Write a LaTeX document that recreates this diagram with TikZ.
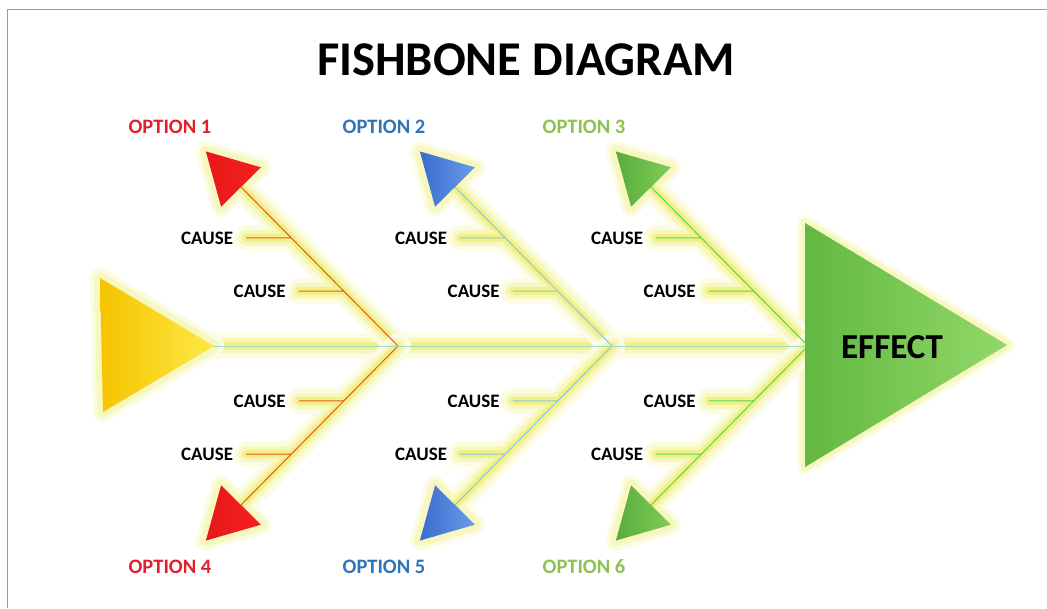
\documentclass[tikz,border=0pt]{standalone}
\usepackage{fontspec}
\setmainfont{Carlito}
\usetikzlibrary{positioning,calc}
\pgfdeclarelayer{glow}
\pgfsetlayers{glow,main}

\definecolor{optred}{HTML}{E0202B}
\definecolor{optblue}{HTML}{2F74B5}
\definecolor{optgreen}{HTML}{8CC152}
\definecolor{bonered}{HTML}{E8562A}
\definecolor{boneblue}{HTML}{8CC6DE}
\definecolor{bonegreen}{HTML}{55D655}
\definecolor{spinec}{HTML}{A6D8C8}
\definecolor{glowc}{HTML}{EDED6A}
\definecolor{framec}{HTML}{9A9A9A}
\definecolor{redA}{HTML}{E81818}
\definecolor{redB}{HTML}{F52020}
\definecolor{blueA}{HTML}{3A6CCF}
\definecolor{blueB}{HTML}{6A9BE8}
\definecolor{greenA}{HTML}{58AC3C}
\definecolor{greenB}{HTML}{80CC58}
\definecolor{effA}{HTML}{62B842}
\definecolor{effB}{HTML}{92D868}

\tikzset{
  glowwide/.style={draw=glowc!18, line width=26pt, line cap=round, line join=round},
  glowmid/.style={draw=glowc!42, line width=16pt, line cap=round, line join=round},
  glownarrow/.style={draw=glowc!80, line width=8pt, line cap=round, line join=round},
  causelbl/.style={font=\bfseries\fontsize{19}{19}\selectfont, inner xsep=13pt, inner ysep=1pt},
  optlbl/.style={font=\bfseries\fontsize{20.5}{20.5}\selectfont},
  bone/.style={line width=1pt}
}

\begin{document}
\begin{tikzpicture}[x=1pt,y=-1pt]
    \useasboundingbox (0,0) rectangle (1047,608);
    \draw[framec, line width=1pt] (1047,9.5) -- (7.5,9.5) -- (7.5,608);

    \node[font=\bfseries\fontsize{48.5}{48.5}\selectfont] (title) at (526,60) {FISHBONE DIAGRAM};

    % spine
    \coordinate (ya) at (100,278);
    \coordinate (yb) at (103,412);
    \coordinate (tail) at (214,346);
    \coordinate (jr) at (398,346);
    \coordinate (jb) at (612,346);
    \coordinate (jg) at (808,346);
    \coordinate (ea) at (805,223);
    \coordinate (ec) at (805,467);
    \coordinate (etip) at (1007,345);

    % bone ends
    \coordinate (r1) at (241,187);
    \coordinate (r4) at (241,505);
    \coordinate (b2) at (455,187);
    \coordinate (b5) at (455,505);
    \coordinate (g3) at (651,187);
    \coordinate (g6) at (651,505);

    \begin{pgfonlayer}{glow}
        \draw[glowwide] (tail) -- (jg);
        \draw[glowmid] (tail) -- (jg);
        \draw[glownarrow] (tail) -- (jg);
        \draw[glowwide, line width=20pt] (ya) -- (yb) -- (tail) -- cycle;
        \draw[glowmid, line width=12pt] (ya) -- (yb) -- (tail) -- cycle;
        \draw[glowwide, line width=16pt] (ea) -- (etip) -- (ec) -- cycle;
        \draw[glowmid, line width=9pt] (ea) -- (etip) -- (ec) -- cycle;
    \end{pgfonlayer}

    \foreach \j/\e/\col/\ca/\cb in {jr/r1/bonered/redA/redB, jr/r4/bonered/redA/redB,
        jb/b2/boneblue/blueA/blueB, jb/b5/boneblue/blueA/blueB,
        jg/g3/bonegreen/greenA/greenB, jg/g6/bonegreen/greenA/greenB}{
        \coordinate (\e n) at ($(\j)!0.345!(\e)$);
        \coordinate (\e f) at ($(\j)!0.68!(\e)$);
        \node[causelbl, left=45pt of \e n] (\e nl) {CAUSE};
        \node[causelbl, left=45pt of \e f] (\e fl) {CAUSE};
        % arrow triangle at the bone end
        \coordinate (\e t) at ($(\e)!-50pt!(\j)$);
        \coordinate (\e a) at ($(\e)!28pt!90:(\j)$);
        \coordinate (\e b) at ($(\e)!28pt!-90:(\j)$);
        \begin{pgfonlayer}{glow}
            \draw[glowwide] (\j) -- (\e) (\e nl.east) -- (\e n) (\e fl.east) -- (\e f);
            \draw[glowwide, line width=20pt] (\e t) -- (\e a) -- (\e b) -- cycle;
            \draw[glowmid] (\j) -- (\e) (\e nl.east) -- (\e n) (\e fl.east) -- (\e f);
            \draw[glowmid, line width=12pt] (\e t) -- (\e a) -- (\e b) -- cycle;
            \draw[glownarrow] (\j) -- (\e) (\e nl.east) -- (\e n) (\e fl.east) -- (\e f);
        \end{pgfonlayer}
        \draw[\col, bone] (\j) -- (\e) (\e nl.east) -- (\e n) (\e fl.east) -- (\e f);
        \shade[left color=\ca, right color=\cb] (\e t) -- (\e a) -- (\e b) -- cycle;
    }

    \draw[spinec, bone] (tail) -- (jg);
    \shade[left color={rgb,255:red,245;green,196;blue,0}, right color={rgb,255:red,255;green,232;blue,70}]
        (ya) -- (yb) -- (tail) -- cycle;
    \shade[left color=effA, right color=effB] (ea) -- (etip) -- (ec) -- cycle;
    \node[font=\bfseries\fontsize{35}{35}\selectfont] (effect) at (892,347) {EFFECT};

    \node[optlbl, text=optred] (opt1) at (170,127) {OPTION 1};
    \node[optlbl, text=optblue] (opt2) at (384,127) {OPTION 2};
    \node[optlbl, text=optgreen] (opt3) at (584,127) {OPTION 3};
    \node[optlbl, text=optred] (opt4) at (170,567) {OPTION 4};
    \node[optlbl, text=optblue] (opt5) at (384,567) {OPTION 5};
    \node[optlbl, text=optgreen] (opt6) at (584,567) {OPTION 6};
\end{tikzpicture}
\end{document}
